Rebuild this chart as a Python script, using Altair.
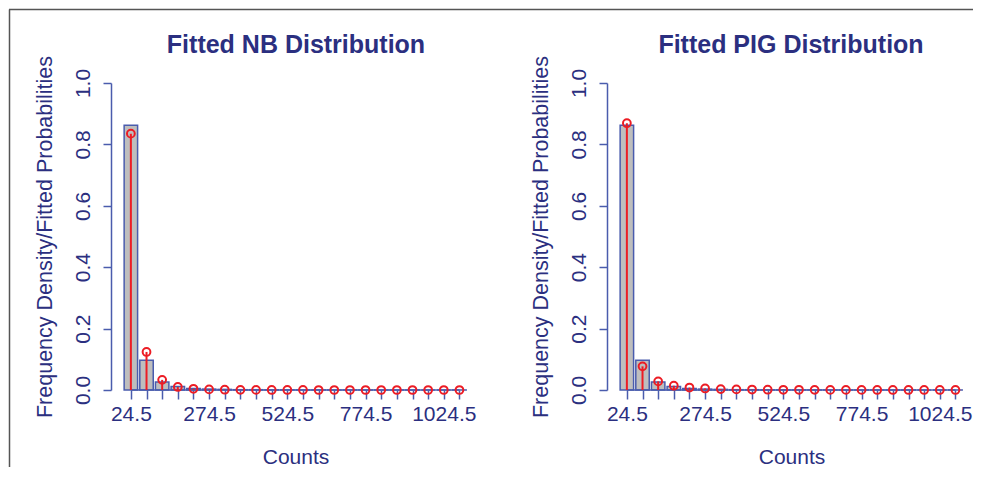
import altair as alt
import pandas as pd

# ---- data ----
centers = [24.5, 74.5, 124.5, 174.5, 224.5, 274.5, 324.5, 374.5, 424.5, 474.5, 524.5,
           574.5, 624.5, 674.5, 724.5, 774.5, 824.5, 874.5, 924.5, 974.5, 1024.5, 1074.5]
observed = [0.862, 0.097, 0.026, 0.011, 0.005, 0.003, 0.002, 0.001, 0.001, 0.0005, 0.0005,
            0.0003, 0.0003, 0.0002, 0.0002, 0.0001, 0.0001, 0.0001, 0.0001, 0.0, 0.0, 0.0001]
nb_fitted = [0.835, 0.124, 0.033, 0.010, 0.004, 0.002, 0.001, 0.0005, 0.0003, 0.0002, 0.0001,
             0.0001, 0.0, 0.0, 0.0, 0.0, 0.0, 0.0, 0.0, 0.0, 0.0, 0.0]
pig_fitted = [0.869, 0.077, 0.028, 0.014, 0.008, 0.005, 0.003, 0.002, 0.0015, 0.001, 0.0008,
              0.0006, 0.0005, 0.0004, 0.0003, 0.0003, 0.0002, 0.0002, 0.0002, 0.0001, 0.0001, 0.0001]
label_values = [24.5, 274.5, 524.5, 774.5, 1024.5]
y_ticks = [0.0, 0.2, 0.4, 0.6, 0.8, 1.0]
titles = ["Fitted NB Distribution", "Fitted PIG Distribution"]
x_title = "Counts"
y_title = "Frequency Density/Fitted Probabilities"

# ---- style ----
FONT = "Liberation Sans"
AX = "#4a5cad"
TXT = "#2b2f80"
RED = "#ec1c24"
FR = "#555555"
BARFILL = "#bebebe"
W, H = 363, 307
XDOM = [-39, 1121]
HALF = 21.5

label_list = ",".join(str(v) for v in label_values)
xscale = alt.Scale(domain=XDOM, nice=False, zero=False)
yscale = alt.Scale(domain=[0, 1], nice=False)

x_axis = alt.Axis(values=centers, format=".1f",
                  labelExpr=f"indexof([{label_list}], datum.value) >= 0 ? datum.label : ''",
                  domain=False, grid=False, tickSize=9, tickColor=AX, tickWidth=1.5,
                  labelFontSize=21, labelColor=TXT, labelFont=FONT, labelPadding=4,
                  labelFlush=False, labelOverlap=False,
                  titleFontSize=21, titleFontWeight="normal", titleColor=TXT, titleFont=FONT,
                  titleX=184.5, titleY=73, titleBaseline="alphabetic", titleAlign="center")
y_axis = alt.Axis(values=y_ticks, format=".1f", domain=True, domainColor=AX, domainWidth=1.5,
                  grid=False, tickSize=8, tickColor=AX, tickWidth=1.5,
                  labelAngle=270, labelAlign="center", labelBaseline="alphabetic",
                  labelPadding=14, labelFontSize=21, labelColor=TXT, labelFont=FONT,
                  labelFlush=False, labelOverlap=False,
                  titleFontSize=21.5, titleFontWeight="normal", titleColor=TXT, titleFont=FONT,
                  titleAngle=270, titleX=-60, titleY=153.5, titleAlign="center",
                  titleBaseline="alphabetic")


def panel(fitted, title, title_x, with_frame):
    df = pd.DataFrame({"center": centers, "observed": observed, "fitted": fitted})
    df["lo"] = df["center"] - HALF
    df["hi"] = df["center"] + HALF
    df["zero"] = 0.0
    base = alt.Chart(df)

    bars = base.mark_rect(fill=BARFILL, stroke=AX, strokeWidth=1.5).encode(
        x=alt.X("lo:Q", scale=xscale, title=x_title, axis=x_axis),
        x2="hi:Q",
        y=alt.Y("observed:Q", scale=yscale, title=y_title, axis=y_axis),
        y2="zero:Q",
    )
    line_df = pd.DataFrame({"lo": [centers[0]], "hi": [centers[-1]], "zero": [0.0]})
    baseline = alt.Chart(line_df).mark_rule(color=AX, strokeWidth=1.5).encode(
        x=alt.X("lo:Q", scale=xscale, title=x_title, axis=x_axis),
        x2="hi:Q",
        y=alt.Y("zero:Q", scale=yscale, title=y_title, axis=y_axis),
    )
    stems = base.mark_rule(color=RED, strokeWidth=2).encode(
        x=alt.X("center:Q", scale=xscale, title=x_title, axis=x_axis),
        y=alt.Y("fitted:Q", scale=yscale, title=y_title, axis=y_axis),
        y2="zero:Q",
    )
    points = base.mark_point(shape="circle", filled=False, color=RED, strokeWidth=2,
                             size=60, opacity=1).encode(
        x=alt.X("center:Q", scale=xscale, title=x_title, axis=x_axis),
        y=alt.Y("fitted:Q", scale=yscale, title=y_title, axis=y_axis),
    )
    one = pd.DataFrame({"k": [0]})
    ttl = alt.Chart(one).mark_text(text=title, font=FONT, fontSize=25, fontWeight="bold",
                                   color=TXT, align="center", baseline="alphabetic").encode(
        x=alt.value(title_x), y=alt.value(-30))
    layers = [bars, baseline, stems, points, ttl]
    if with_frame:
        left_line = alt.Chart(one).mark_rule(color=FR, strokeWidth=1.5, clip=False).encode(
            x=alt.value(-101.5), y=alt.value(-73.5), y2=alt.value(384))
        top_line = alt.Chart(one).mark_rule(color=FR, strokeWidth=1.5, clip=False).encode(
            x=alt.value(-102), x2=alt.value(862), y=alt.value(-73.5))
        layers += [left_line, top_line]
    return alt.layer(*layers).properties(width=W, height=H)


left = panel(nb_fitted, titles[0], 185, True)
right = panel(pig_fitted, titles[1], 184, False)

chart = alt.hconcat(left, right, spacing=133, bounds="flush").properties(
    padding=0, background="white"
).configure_view(stroke=None).configure_axis(grid=False, labelOverlap=False)

chart.save("out.html", embed_options={"renderer": "svg", "actions": False})
